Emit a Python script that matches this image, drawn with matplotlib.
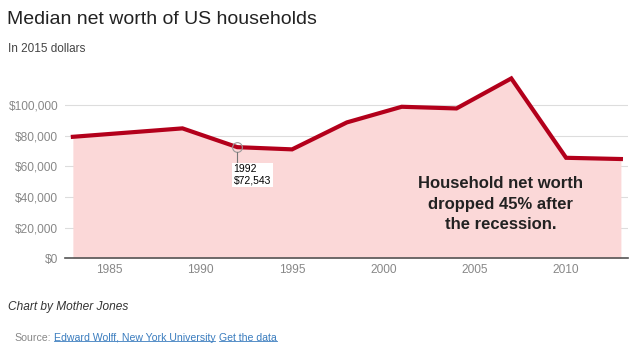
import matplotlib
matplotlib.use("Agg")
import matplotlib.pyplot as plt
from matplotlib.lines import Line2D
from matplotlib.ticker import FuncFormatter

plt.rcParams['font.family'] = ['Liberation Sans', 'DejaVu Sans']

# median net worth, 2015 dollars
years = [1983, 1989, 1992, 1995, 1998, 2001, 2004, 2007, 2010, 2013]
worth = [79300, 84800, 72543, 71100, 88700, 98900, 97800, 117400, 65600, 64800]
x_ticks = [1985, 1990, 1995, 2000, 2005, 2010]
y_ticks = [0, 20000, 40000, 60000, 80000, 100000]

line_red = '#b3001b'
fill_pink = '#fbd8d8'
link_blue = '#3b7dbf'

fig = plt.figure(figsize=(6.4, 3.54), dpi=100)
ax = fig.add_axes([0.1016, 0.2703, 0.8794, 0.5177])

ax.fill_between(years, worth, 0, color=fill_pink, lw=0)
ax.plot(years, worth, color=line_red, lw=3, solid_joinstyle='miter', zorder=3)

ax.set_xlim(1982.57, 2013.38)
ax.set_ylim(0, 119600)
ax.set_xticks(x_ticks)
ax.set_yticks(y_ticks)
ax.yaxis.set_major_formatter(FuncFormatter(lambda v, p: f"${v:,.0f}"))
ax.grid(axis='y', color='#dddddd', lw=0.8)
ax.set_axisbelow(True)
for s in ['top', 'right', 'left']:
    ax.spines[s].set_visible(False)
ax.spines['bottom'].set_color('#555555')
ax.spines['bottom'].set_linewidth(1.2)
ax.tick_params(length=0, labelsize=8.6, colors='#888888', pad=4)
ax.tick_params(axis='y', pad=5)

# hover annotation on 1992
ax.plot([1992], [72543], marker='o', ms=7, mfc='none', mec='#999999', mew=0.8, zorder=4)
ax.plot([1992, 1992], [69500, 63000], color='#777777', lw=0.8, zorder=4)
ax.text(1991.8, 61500, "1992\n$72,543", fontsize=7.5, color='black', va='top', ha='left',
        linespacing=1.2, zorder=5,
        bbox=dict(boxstyle='square,pad=0.15', fc='white', ec='none'))

ax.text(2006.4, 35400, "Household net worth\ndropped 45% after\nthe recession.",
        fontsize=12, fontweight='bold', color='#222222', ha='center', va='center',
        linespacing=1.45)

fig.text(0.011, 0.944, "Median net worth of US households", fontsize=14,
         color='#222222', va='center')
fig.text(0.013, 0.862, "In 2015 dollars", fontsize=8.5, color='#444444', va='center')
fig.text(0.013, 0.134, "Chart by Mother Jones", fontsize=8.6, style='italic',
         color='#333333', va='center')

# source line with underlined links
fig.text(0.022, 0.046, "Source:", fontsize=7.6, color='#888888', va='center')
link1 = fig.text(0.084, 0.046, "Edward Wolff, New York University", fontsize=7.6,
                 color=link_blue, va='center')
fig.canvas.draw()
r = fig.canvas.get_renderer()
bb1 = link1.get_window_extent(r).transformed(fig.transFigure.inverted())
link2 = fig.text(bb1.x1 + 4 / 640, 0.046, "Get the data", fontsize=7.6,
                 color=link_blue, va='center')
fig.canvas.draw()
for t in [link1, link2]:
    bb = t.get_window_extent(r).transformed(fig.transFigure.inverted())
    fig.add_artist(Line2D([bb.x0, bb.x1], [bb.y0 + 0.004, bb.y0 + 0.004],
                          color=link_blue, lw=0.6))

fig.savefig('out.png', dpi=100)
